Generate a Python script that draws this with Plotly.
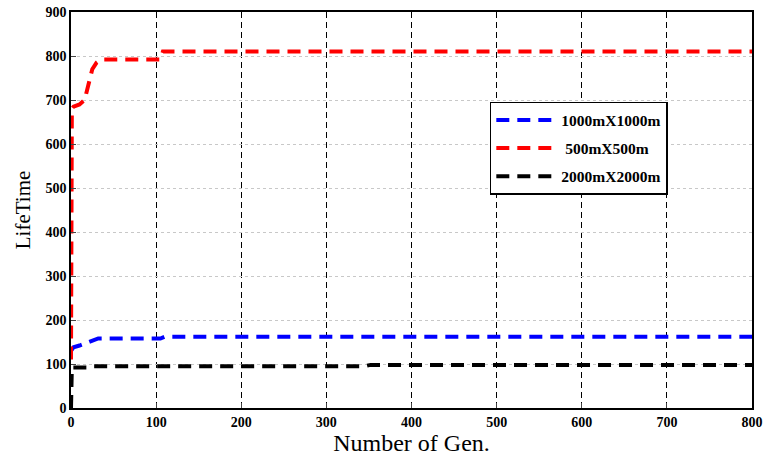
import plotly.graph_objects as go

# Best lifetime per generation for three field sizes
gen_500 = [0, 1, 3, 10, 16, 20, 25, 30, 35, 38, 105, 108, 800]
life_500 = [110, 680, 685, 690, 700, 735, 770, 785, 792, 792, 792, 810, 810]

gen_1000 = [0, 3, 10, 18, 25, 32, 105, 110, 800]
life_1000 = [130, 138, 142, 148, 152, 158, 158, 162, 162]

gen_2000 = [0, 1, 20, 25, 345, 352, 800]
life_2000 = [0, 92, 92, 95, 95, 98, 98]

x_ticks = [0, 100, 200, 300, 400, 500, 600, 700, 800]
y_ticks = [0, 100, 200, 300, 400, 500, 600, 700, 800, 900]

serif = "Liberation Serif, Times New Roman, serif"
dash = "13px,8px"

fig = go.Figure()
fig.add_trace(go.Scatter(x=gen_1000, y=life_1000, mode="lines", name="<b>1000mX1000m</b>",
                         legendgroup="a",
                         line=dict(color="#0000ff", width=4, dash=dash)))
fig.add_trace(go.Scatter(x=gen_500, y=life_500, mode="lines", name="<b> 500mX500m</b>",
                         legendgroup="b",
                         line=dict(color="#ff0000", width=4, dash=dash)))
fig.add_trace(go.Scatter(x=gen_2000, y=life_2000, mode="lines", name="<b>2000mX2000m</b>",
                         legendgroup="c",
                         line=dict(color="#000000", width=4, dash=dash)))

fig.update_layout(
    width=765, height=461,
    margin=dict(l=71, r=13, t=12, b=53),
    paper_bgcolor="white", plot_bgcolor="white",
    font=dict(family=serif, color="black", size=14),
    legend=dict(x=0.615, y=0.773, xanchor="left", yanchor="top",
                bgcolor="white", bordercolor="black", borderwidth=1.5,
                font=dict(family=serif, size=15.5, color="black"),
                itemwidth=60, tracegroupgap=5),
    xaxis=dict(range=[0, 800], tickvals=x_ticks, ticks="inside", ticklen=5,
               tickfont=dict(family=serif, size=14, weight="bold"),
               showline=True, linecolor="black", linewidth=1.5, mirror=True,
               showgrid=True, gridcolor="black", gridwidth=1, griddash="6px,4px",
               zeroline=False, automargin=False,
               title=dict(text="Number of Gen.", font=dict(family=serif, size=24), standoff=3)),
    yaxis=dict(range=[0, 900], tickvals=y_ticks, ticks="inside", ticklen=5,
               tickfont=dict(family=serif, size=14, weight="bold"),
               showline=True, linecolor="black", linewidth=1.5, mirror=True,
               showgrid=True, gridcolor="#c8c8c8", gridwidth=1, griddash="dot",
               zeroline=False, automargin=False,
               title=dict(text="LifeTime", font=dict(family=serif, size=21), standoff=9)),
)

fig.write_html("out.html")
